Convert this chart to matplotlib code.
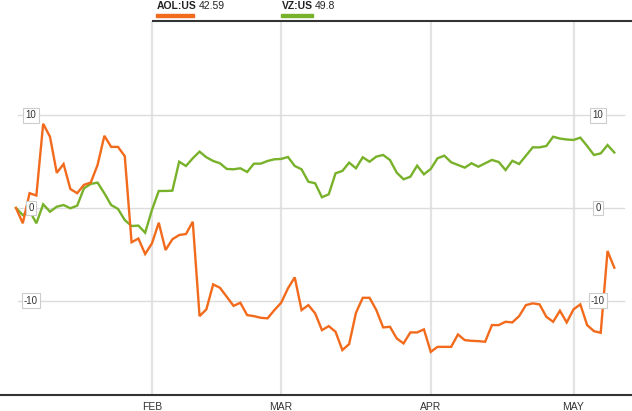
import matplotlib
matplotlib.use("Agg")
import matplotlib.pyplot as plt
import matplotlib.transforms as mtransforms

plt.rcParams['font.family'] = ['Liberation Sans', 'DejaVu Sans']

# percent change since start, one value per trading day
aol = [0, -1.65, 1.6, 1.35, 9.1, 7.7, 3.8, 4.75, 2.05, 1.6,
       2.5, 2.75, 4.65, 7.8, 6.6, 6.6, 5.6, -3.7, -3.3, -4.97,
       -3.82, -1.59, -4.54, -3.38, -2.92, -2.81, -1.48, -11.68, -10.95, -8.25,
       -8.62, -9.59, -10.57, -10.24, -11.57, -11.68, -11.86, -11.92, -11.03, -10.24,
       -8.68, -7.49, -11.03, -10.49, -11.38, -13.19, -12.76, -13.37, -15.35, -14.7,
       -11.32, -9.7, -9.7, -11.03, -12.9, -12.83, -14.09, -14.63, -13.44, -13.44,
       -13.11, -15.54, -15.0, -15.0, -15.0, -13.66, -14.27, -14.35, -14.38, -14.45,
       -12.65, -12.65, -12.29, -12.36, -11.68, -10.49, -10.3, -10.41, -11.75, -12.29,
       -11.1, -12.36, -10.95, -10.41, -12.65, -13.3, -13.48, -4.65, -6.45]
vz = [0, -0.76, -0.3, -1.65, 0.4, -0.4, 0.14, 0.32, -0.03, 0.25,
      2.13, 2.6, 2.74, 1.59, 0.32, -0.1, -1.3, -1.95, -1.9, -2.67,
      -0.2, 1.84, 1.84, 1.87, 5.0, 4.54, 5.37, 6.09, 5.48, 5.08,
      4.83, 4.22, 4.18, 4.29, 3.89, 4.79, 4.79, 5.08, 5.26, 5.3,
      5.51, 4.54, 4.18, 2.84, 2.67, 1.16, 1.48, 3.75, 4.0, 4.9,
      4.29, 5.48, 5.0, 5.55, 5.73, 5.19, 3.82, 3.1, 3.38, 4.57,
      3.64, 4.22, 5.37, 5.65, 4.94, 4.65, 4.36, 4.83, 4.46, 4.83,
      5.19, 4.97, 4.1, 5.1, 4.75, 5.65, 6.55, 6.55, 6.7, 7.7,
      7.5, 7.4, 7.35, 7.6, 6.7, 5.73, 5.9, 6.8, 6.0]

month_labels = ['FEB', 'MAR', 'APR', 'MAY']
month_index = [20, 39, 61, 82]
y_ticks = [10, 0, -10]
legend_names = ['AOL:US', 'VZ:US']
legend_values = ['42.59', '49.8']

c_aol = '#F26A1B'
c_vz = '#78B12A'

fig = plt.figure(figsize=(6.32, 4.11), dpi=100)
ax = fig.add_axes([0, 16/411, 1, (395-21)/411])
x = list(range(len(aol)))

ax.set_xlim(-2.35, 90.6)
ax.set_ylim(-20.2, 20.2)
for s in ['left', 'right', 'top']:
    ax.spines[s].set_visible(False)
ax.spines['bottom'].set_color('#333333')
ax.spines['bottom'].set_linewidth(1.5)
ax.set_yticks([])
ax.set_xticks(month_index)
ax.set_xticklabels(month_labels, fontsize=7.5, color='#333333')
ax.tick_params(axis='x', length=0, pad=5)

# vertical grid
for m in month_index:
    ax.axvline(m, color='#e3e3e3', lw=1.6, zorder=0)
# horizontal grid
for v in y_ticks:
    ax.axhline(v, xmin=18/632, xmax=624/632, color='#dcdcdc', lw=1.0, zorder=0)

# top line from FEB to the right
trans_xd = mtransforms.blended_transform_factory(ax.transData, ax.transAxes)
ax.plot([month_index[0], 90.6], [1, 1], transform=trans_xd, color='#333333',
        lw=1.5, clip_on=False, solid_capstyle='butt')

ax.plot(x, vz, color=c_vz, lw=1.7, zorder=3, solid_joinstyle='miter')
ax.plot(x, aol, color=c_aol, lw=1.7, zorder=4, solid_joinstyle='miter')

# y labels (boxed) on both sides
trans_ya = mtransforms.blended_transform_factory(ax.transAxes, ax.transData)
box = dict(boxstyle='square,pad=0.25', fc='white', ec='#cccccc', lw=0.8)
left_x = 31/632
right_x = 598/632
for v in y_ticks:
    ax.text(left_x, v, str(v), transform=trans_ya, ha='center', va='center',
            fontsize=7, color='#333333', bbox=box, zorder=5)
    ax.text(right_x, v, str(v), transform=trans_ya, ha='center', va='center',
            fontsize=7, color='#333333', bbox=box, zorder=5)

# legend
leg_x = [157, 282]
bar_w = [38, 32]
cols = [c_aol, c_vz]
for lx, bw, name, val, c in zip(leg_x, bar_w, legend_names, legend_values, cols):
    t = fig.text(lx/632, 1 - 6/411, name, fontsize=7.5, color='#222222',
                 ha='left', va='center', fontweight='bold')
    fig.canvas.draw()
    bb = t.get_window_extent()
    fig.text(bb.x1/632 + 2/632, 1 - 6/411, val, fontsize=7.5, color='#222222',
             ha='left', va='center')
    fig.patches.append(plt.Rectangle(((lx-1)/632, 1 - 17/411), bw/632, 3/411,
                                     transform=fig.transFigure, color=c))

fig.savefig('out.png', dpi=100)
